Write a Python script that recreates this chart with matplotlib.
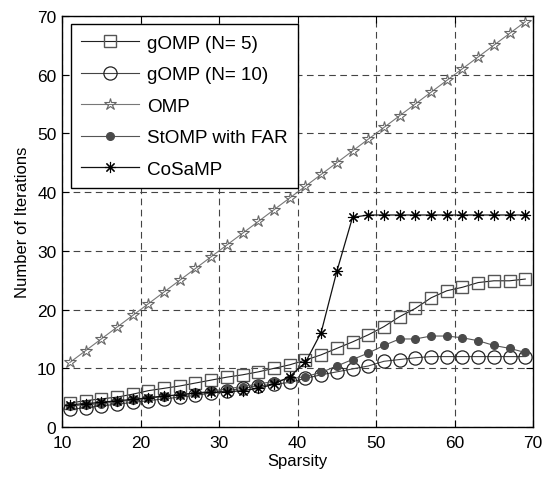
import matplotlib
matplotlib.use("Agg")
import matplotlib.pyplot as plt

plt.rcParams['font.family'] = ['Liberation Sans', 'DejaVu Sans']

# Sparsity-Werte (ungerade Zahlen 11..69)
sparsity = [11, 13, 15, 17, 19, 21, 23, 25, 27, 29, 31, 33, 35, 37, 39,
            41, 43, 45, 47, 49, 51, 53, 55, 57, 59, 61, 63, 65, 67, 69]

gomp5 = [4.1, 4.5, 4.8, 5.1, 5.6, 6.2, 6.6, 7.0, 7.5, 8.0, 8.5, 8.9, 9.4, 10.0, 10.6,
         11.4, 12.3, 13.4, 14.5, 15.7, 17.1, 18.8, 20.2, 22.0, 23.2, 23.8, 24.6, 24.9, 24.9, 25.2]

gomp10 = [3.0, 3.3, 3.6, 3.9, 4.2, 4.5, 4.8, 5.1, 5.4, 5.8, 6.2, 6.6, 7.0, 7.3, 7.6,
          8.3, 8.9, 9.4, 9.9, 10.4, 11.2, 11.5, 11.8, 12.0, 12.0, 12.0, 12.0, 12.0, 12.0, 12.0]

omp = [11, 13, 15, 17, 19, 21, 23, 25, 27, 29, 31, 33, 35, 37, 39,
       41, 43, 45, 47, 49, 51, 53, 55, 57, 59, 61, 63, 65, 67, 69]

stomp = [3.6, 3.8, 4.0, 4.3, 4.6, 4.9, 5.2, 5.5, 5.8, 6.1, 6.5, 6.9, 7.3, 7.8, 8.2,
         8.6, 9.3, 10.4, 11.5, 12.6, 13.9, 15.0, 15.0, 15.5, 15.5, 15.2, 14.7, 13.9, 13.4, 12.7]

cosamp = [3.8, 4.0, 4.2, 4.5, 4.7, 5.0, 5.3, 5.5, 5.8, 5.9, 6.0, 6.2, 6.6, 7.3, 8.6,
          11.0, 16.1, 26.5, 35.7, 36.1, 36.1, 36.1, 36.1, 36.1, 36.1, 36.1, 36.1, 36.1, 36.1, 36.1]

fig = plt.figure(figsize=(5.44, 4.81), dpi=100)
ax = fig.add_axes([0.114, 0.110, 0.866, 0.855])

ax.plot(sparsity, gomp5, color='#222222', lw=0.8, marker='s', ms=9,
        mfc='none', mec='#555555', mew=1.0, label='gOMP (N= 5)')
ax.plot(sparsity, gomp10, color='#444444', lw=0.8, marker='o', ms=9.5,
        mfc='none', mec='#222222', mew=0.9, label='gOMP (N= 10)')
ax.plot(sparsity, omp, color='#777777', lw=0.8, marker='*', ms=9,
        mfc='none', mec='#666666', mew=0.8, label='OMP')
ax.plot(sparsity, stomp, color='#555555', lw=0.8, marker='o', ms=5.5,
        mfc='#4a4a4a', mec='#4a4a4a', label='StOMP with FAR')
ax.plot(sparsity, cosamp, color='#111111', lw=0.9, marker=(8, 2, 0), ms=8,
        mec='#000000', mew=0.8, label='CoSaMP')

ax.set_xlim(10, 70)
ax.set_ylim(0, 70)
ax.set_xticks([10, 20, 30, 40, 50, 60, 70])
ax.set_yticks([0, 10, 20, 30, 40, 50, 60, 70])
ax.tick_params(direction='in', top=True, right=True, labelsize=12.5, length=5, pad=4)
ax.tick_params(axis='x', pad=6)
ax.grid(True, linestyle=(0, (6, 4)), color='#444444', lw=0.8)
for s in ax.spines.values():
    s.set_linewidth(1.0)

ax.set_xlabel('Sparsity', fontsize=12, labelpad=2)
ax.set_ylabel('Number of Iterations', fontsize=12, labelpad=5)

leg = ax.legend(loc='upper left', fontsize=13.6, handlelength=3.1, handletextpad=0.4,
                labelspacing=0.75, borderpad=0.55, fancybox=False, framealpha=1,
                edgecolor='black', borderaxespad=0.45)
leg.get_frame().set_linewidth(1.0)

plt.savefig('out.png', dpi=100)
